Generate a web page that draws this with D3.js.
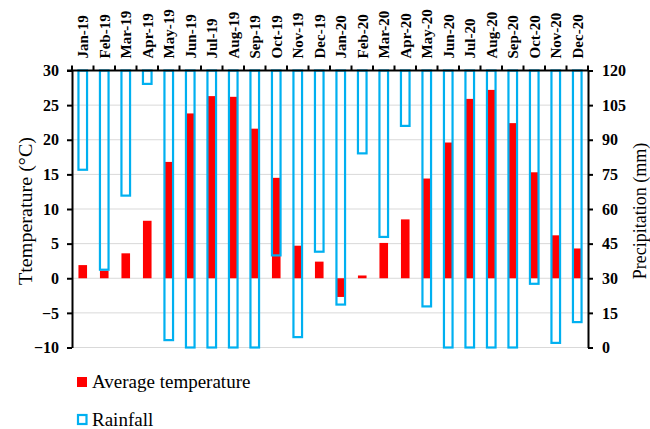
<!DOCTYPE html>
<html>
<head>
<meta charset="utf-8">
<script src="https://cdn.jsdelivr.net/npm/d3@7"></script>
<style>
  body { margin: 0; background: #fff; }
  svg text { font-family: "Liberation Serif", "Times New Roman", Times, "DejaVu Serif", serif; }
</style>
</head>
<body>
<div id="chart"></div>
<script>
// 1. Data
const months = ['Jan-19','Feb-19','Mar-19','Apr-19','May-19','Jun-19','Jul-19','Aug-19','Sep-19','Oct-19','Nov-19','Dec-19',
                'Jan-20','Feb-20','Mar-20','Apr-20','May-20','Jun-20','Jul-20','Aug-20','Sep-20','Oct-20','Nov-20','Dec-20']
// average temperature, °C (left axis)
const temperature = [1.9, 1.1, 3.6, 8.3, 16.8, 23.8, 26.3, 26.2, 21.6, 14.5, 4.7, 2.4,
                     -2.7, 0.4, 5.1, 8.5, 14.4, 19.6, 25.9, 27.2, 22.4, 15.3, 6.2, 4.3]
// rainfall bar ends as read on the right axis, mm (bars hang from the top)
const rainfall = [77, 33.7, 65.8, 114.2, 3.2, 0, 0, 0, 0, 39.9, 4.5, 41.5,
                  18.6, 84.1, 47.9, 96, 17.8, 0, 0, 0, 0, 27.6, 2, 11]
const tempTicks = [-10, -5, 0, 5, 10, 15, 20, 25, 30]
const rainTicks = [0, 15, 30, 45, 60, 75, 90, 105, 120]

const serif = '"Liberation Serif", "Times New Roman", Times, "DejaVu Serif", serif'

// 2. Dimensions
let dimensions = {
    width: 650,
    height: 429,
    margin: { top: 70.5, right: 62, bottom: 81.5, left: 72 }
}
dimensions.boundedWidth = dimensions.width - dimensions.margin.left - dimensions.margin.right
dimensions.boundedHeight = dimensions.height - dimensions.margin.top - dimensions.margin.bottom

// 3. Canvas
const wrapper = d3.select('#chart')
    .append('svg')
    .attr('width', dimensions.width)
    .attr('height', dimensions.height)
    .style('font-family', serif)

const bounds = wrapper.append('g')
    .attr('transform', `translate(${dimensions.margin.left},${dimensions.margin.top})`)

// 4. Scales
const xScale = d3.scaleBand()
    .domain(months)
    .range([0, dimensions.boundedWidth])
    .paddingInner(0.6)
    .paddingOuter(0.3)

const yScale = d3.scaleLinear()
    .domain([-10, 30])
    .range([dimensions.boundedHeight, 0])

const rainScale = d3.scaleLinear()
    .domain([0, 120])
    .range([dimensions.boundedHeight, 0])

// gridlines
bounds.append('g')
    .selectAll('line')
    .data(tempTicks)
    .join('line')
    .attr('x1', 0)
    .attr('x2', dimensions.boundedWidth)
    .attr('y1', d => yScale(d))
    .attr('y2', d => yScale(d))
    .attr('stroke', '#d9d9d9')
    .attr('stroke-width', 1)

// 5. Data
bounds.append('g')
    .selectAll('rect')
    .data(temperature)
    .join('rect')
    .attr('x', (d, i) => xScale(months[i]))
    .attr('width', xScale.bandwidth())
    .attr('y', d => yScale(Math.max(0, d)))
    .attr('height', d => Math.abs(yScale(d) - yScale(0)))
    .attr('fill', '#ff0000')

bounds.append('g')
    .selectAll('rect')
    .data(rainfall)
    .join('rect')
    .attr('x', (d, i) => xScale(months[i]))
    .attr('width', xScale.bandwidth())
    .attr('y', rainScale(120))
    .attr('height', d => rainScale(d) - rainScale(120))
    .attr('fill', 'none')
    .attr('stroke', '#00b0f0')
    .attr('stroke-width', 2.2)

// 6. Peripherals
const yAxis = bounds.append('g')
    .call(d3.axisLeft(yScale).tickValues(tempTicks).tickSize(5).tickSizeOuter(0).tickPadding(8))
yAxis.attr('font-family', null)
yAxis.selectAll('text')
    .attr('font-size', 16).attr('font-weight', 'bold').attr('fill', '#000')

const rainAxis = bounds.append('g')
    .attr('transform', `translate(${dimensions.boundedWidth},0)`)
    .call(d3.axisRight(rainScale).tickValues(rainTicks).tickSize(5).tickSizeOuter(0).tickPadding(9))
rainAxis.attr('font-family', null)
rainAxis.selectAll('text')
    .attr('font-size', 16).attr('font-weight', 'bold').attr('fill', '#000')

wrapper.selectAll('.domain, .tick line')
    .attr('stroke', '#000').attr('stroke-width', 2)

// top category axis (crosses at the maximum)
const xAxis = bounds.append('g')
    .call(d3.axisTop(xScale).tickSize(0))
xAxis.attr('font-family', null)
xAxis.select('.domain').remove()
xAxis.selectAll('text')
    .attr('transform', 'rotate(-90)')
    .attr('x', 12)
    .attr('y', 0)
    .attr('dy', '0.35em')
    .style('text-anchor', 'start')
    .attr('font-size', 15).attr('font-weight', 'bold').attr('fill', '#000')

bounds.append('line')
    .attr('x1', -5)
    .attr('x2', dimensions.boundedWidth)
    .attr('y1', 0)
    .attr('y2', 0)
    .attr('stroke', '#000')
    .attr('stroke-width', 2)

bounds.append('g')
    .selectAll('line')
    .data(d3.range(months.length + 1))
    .join('line')
    .attr('x1', i => i * xScale.step())
    .attr('x2', i => i * xScale.step())
    .attr('y1', 0)
    .attr('y2', -5)
    .attr('stroke', '#000')
    .attr('stroke-width', 2)

// axis titles
wrapper.append('text')
    .attr('transform', `translate(25,${dimensions.margin.top + dimensions.boundedHeight / 2 + 2}) rotate(-90)`)
    .attr('text-anchor', 'middle')
    .attr('dy', '0.35em')
    .attr('font-size', 19)
    .attr('textLength', 148)
    .attr('lengthAdjust', 'spacingAndGlyphs')
    .text('Ttemperature (°C)')

wrapper.append('text')
    .attr('transform', `translate(640,${dimensions.margin.top + dimensions.boundedHeight / 2 + 2}) rotate(-90)`)
    .attr('text-anchor', 'middle')
    .attr('dy', '0.32em')
    .attr('font-size', 18)
    .text('Precipitation (mm)')

// legend
const legend = wrapper.append('g').attr('transform', 'translate(77,377)')
legend.append('rect')
    .attr('width', 10).attr('height', 10)
    .attr('fill', '#ff0000')
legend.append('text')
    .attr('x', 15).attr('y', 11)
    .attr('font-size', 19)
    .text('Average temperature')
legend.append('rect')
    .attr('x', 1).attr('y', 38)
    .attr('width', 8.5).attr('height', 9)
    .attr('fill', 'none')
    .attr('stroke', '#00b0f0')
    .attr('stroke-width', 2.2)
legend.append('text')
    .attr('x', 15).attr('y', 49)
    .attr('font-size', 19)
    .text('Rainfall')
</script>
</body>
</html>
